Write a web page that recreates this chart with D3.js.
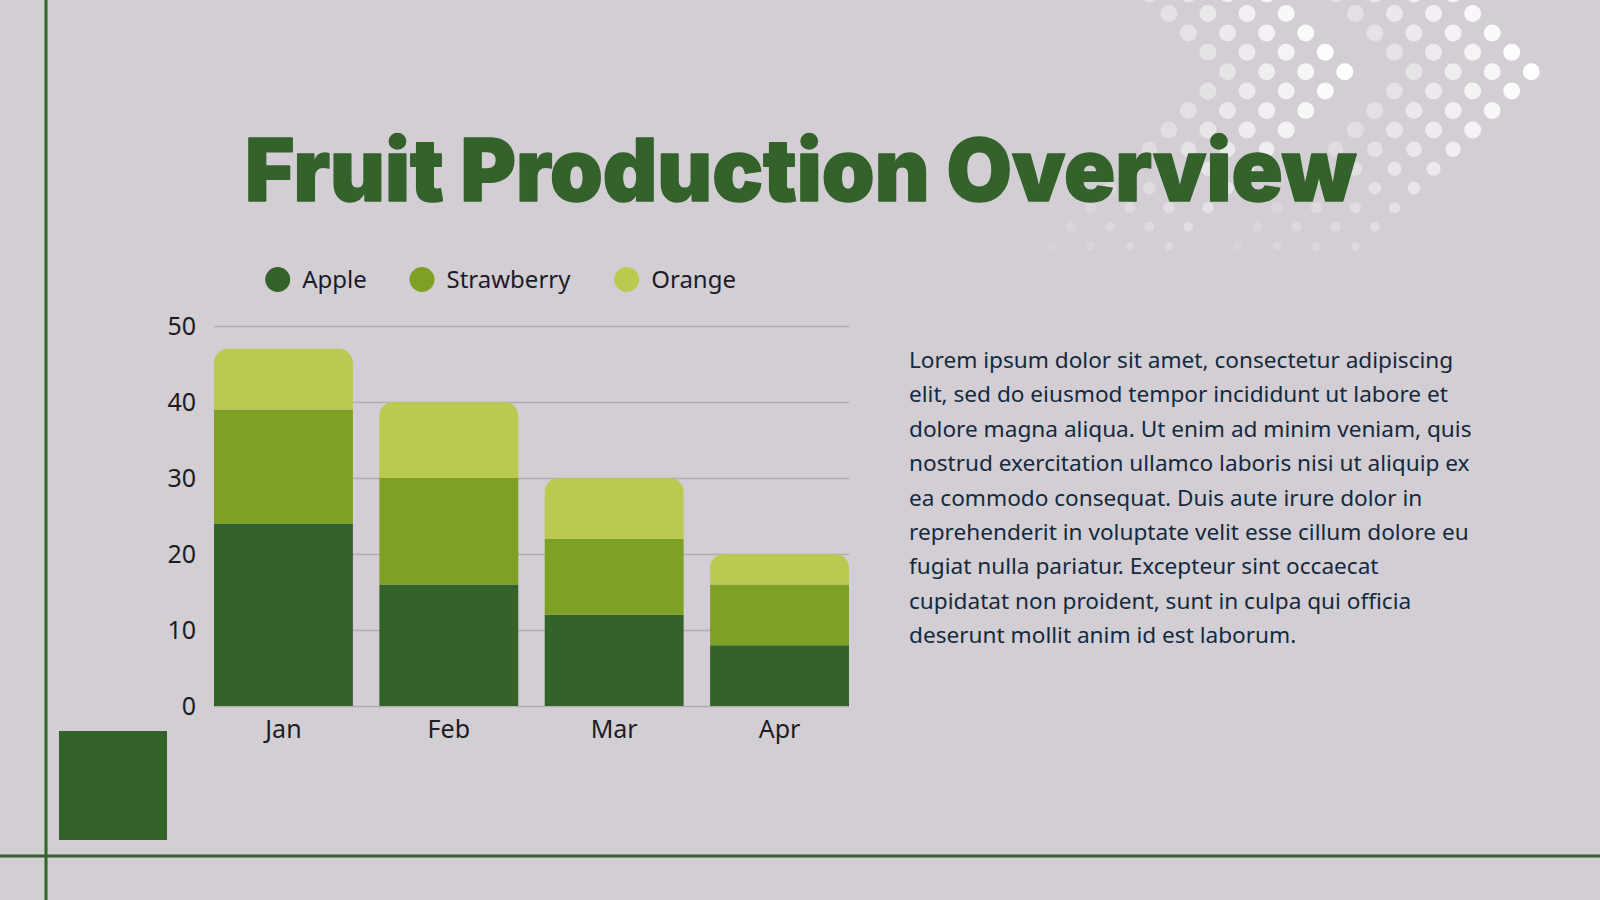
<!DOCTYPE html>
<html>
<head>
<meta charset="utf-8">
<script src="https://cdn.jsdelivr.net/npm/d3@7"></script>
<style>
  html, body { margin: 0; padding: 0; background: #d3ced3; }
  svg { display: block; }
</style>
</head>
<body>
<svg id="chart"></svg>
<script>
// chart data
const months = ['Jan', 'Feb', 'Mar', 'Apr'];
const fruits = ['Apple', 'Strawberry', 'Orange'];
const apple = [24, 16, 12, 8];
const strawberry = [15, 14, 10, 8];
const orange = [8, 10, 8, 4];
const yTicks = [0, 10, 20, 30, 40, 50];

const bodyLines = [
  'Lorem ipsum dolor sit amet, consectetur adipiscing',
  'elit, sed do eiusmod tempor incididunt ut labore et',
  'dolore magna aliqua. Ut enim ad minim veniam, quis',
  'nostrud exercitation ullamco laboris nisi ut aliquip ex',
  'ea commodo consequat. Duis aute irure dolor in',
  'reprehenderit in voluptate velit esse cillum dolore eu',
  'fugiat nulla pariatur. Excepteur sint occaecat',
  'cupidatat non proident, sunt in culpa qui officia',
  'deserunt mollit anim id est laborum.'
];

const W = 1600, H = 900;
const green = '#33622b';
const colors = d3.scaleOrdinal().domain(fruits).range(['#33622b', '#7ea025', '#bcc951']);
const font = "'Noto Sans', 'Open Sans', sans-serif";

const svg = d3.select('#chart').attr('width', W).attr('height', H);
svg.append('rect').attr('width', W).attr('height', H).attr('fill', '#d3ced3');

// decorative dot chevrons, top right
const deco = svg.append('g').attr('class', 'dots');
const apexX = [1227.5, 1414];
const apexY = 71.7;
d3.range(-4, 10).forEach(k => {
  const fade = k <= 0 ? 1 - 0.05 * -k : 1 - 0.085 * k;
  const r = k <= 3 ? 8.5 : 8.5 - (k - 3) * 0.72;
  apexX.forEach(ax => {
    d3.range(4).forEach(j => {
      deco.append('circle')
        .attr('cx', ax + j * 39.1 - Math.abs(k) * 19.55)
        .attr('cy', apexY + k * 19.4)
        .attr('r', r)
        .attr('fill', '#fff')
        .attr('fill-opacity', (0.45 + 0.183 * j) * fade);
    });
  });
});

// frame lines and corner block
svg.append('rect').attr('x', 44.5).attr('y', 0).attr('width', 3).attr('height', H).attr('fill', green);
svg.append('rect').attr('x', 0).attr('y', 854.5).attr('width', W).attr('height', 3).attr('fill', green);
svg.append('rect').attr('x', 59).attr('y', 731).attr('width', 108).attr('height', 109).attr('fill', green);

// title
svg.append('text')
  .attr('x', 245)
  .attr('y', 201)
  .attr('textLength', 1111)
  .attr('lengthAdjust', 'spacingAndGlyphs')
  .attr('font-family', "Inter, Roboto, Lato, sans-serif")
  .attr('font-weight', 900)
  .attr('font-size', 86)
  .style('font-variant-ligatures', 'none')
  .attr('fill', green)
  .attr('stroke', green)
  .attr('stroke-width', 1.5)
  .attr('stroke-linejoin', 'round')
  .text('Fruit Production Overview');

// chart
const plot = {left: 214, right: 849, top: 326, bottom: 706};

const x = d3.scaleBand()
  .domain(months)
  .range([plot.left, plot.right])
  .paddingInner(0.16)
  .paddingOuter(0);

const y = d3.scaleLinear()
  .domain([0, 50])
  .range([plot.bottom, plot.top]);

const rows = months.map((m, i) => ({month: m, Apple: apple[i], Strawberry: strawberry[i], Orange: orange[i]}));
const series = d3.stack().keys(fruits)(rows);

const yAxis = svg.append('g')
  .attr('class', 'yAxis')
  .attr('transform', `translate(${plot.left}, 0)`)
  .call(d3.axisLeft(y)
    .tickValues(yTicks)
    .tickSizeInner(-(plot.right - plot.left))
    .tickSizeOuter(0)
    .tickPadding(18));
yAxis.select('.domain').remove();
yAxis.selectAll('.tick line').attr('stroke', '#b2adb2').attr('stroke-width', 1.5);
yAxis.selectAll('.tick text')
  .attr('font-family', font)
  .attr('font-size', 25)
  .attr('fill', '#1c1c24');

const xAxis = svg.append('g')
  .attr('class', 'xAxis')
  .attr('transform', `translate(0, ${plot.bottom})`)
  .call(d3.axisBottom(x).tickSize(0).tickPadding(14));
xAxis.select('.domain').remove();
xAxis.selectAll('.tick text')
  .attr('font-family', font)
  .attr('font-size', 25)
  .attr('fill', '#1c1c24');

const topRounded = (x0, y0, w, h, r) => {
  r = Math.min(r, h, w / 2);
  return `M${x0},${y0 + h}V${y0 + r}A${r},${r} 0 0 1 ${x0 + r},${y0}` +
    `H${x0 + w - r}A${r},${r} 0 0 1 ${x0 + w},${y0 + r}V${y0 + h}Z`;
};

const layers = svg.append('g').attr('class', 'bars')
  .selectAll('g')
  .data(series)
  .join('g')
  .attr('fill', d => colors(d.key));

layers.selectAll('path')
  .data(d => d.map(v => Object.assign(v, {key: d.key})))
  .join('path')
  .attr('d', d => {
    const x0 = x(d.data.month);
    const y0 = y(d[1]);
    const h = y(d[0]) - y(d[1]);
    const r = d.key === fruits[fruits.length - 1] ? 14 : 0;
    return topRounded(x0, y0, x.bandwidth(), h, r);
  });

// legend
const legendX = [277.7, 422, 626.7];
const legend = svg.append('g').attr('class', 'legend')
  .selectAll('g')
  .data(fruits)
  .join('g')
  .attr('transform', (d, i) => `translate(${legendX[i]}, 279.5)`);
legend.append('circle').attr('r', 12.5).attr('fill', d => colors(d));
legend.append('text')
  .attr('x', 24.5)
  .attr('y', 8.5)
  .attr('font-family', font)
  .attr('font-size', 24)
  .attr('fill', '#1c1c28')
  .text(d => d);

// body text
const body = svg.append('g').attr('class', 'body');
const bodyText = body.append('text')
  .attr('font-family', font)
  .attr('font-size', 22.5)
  .attr('fill', '#142a3e');
bodyText.selectAll('tspan')
  .data(bodyLines)
  .join('tspan')
  .attr('x', 0)
  .attr('y', (d, i) => 368 + i * 34.4)
  .text(d => d);

// fit the widest line to the width in the layout
const ref = bodyText.selectAll('tspan').nodes()[3];
const sx = 561 / ref.getComputedTextLength();
body.attr('transform', `translate(909, 0) scale(${sx}, 1)`);
</script>
</body>
</html>
